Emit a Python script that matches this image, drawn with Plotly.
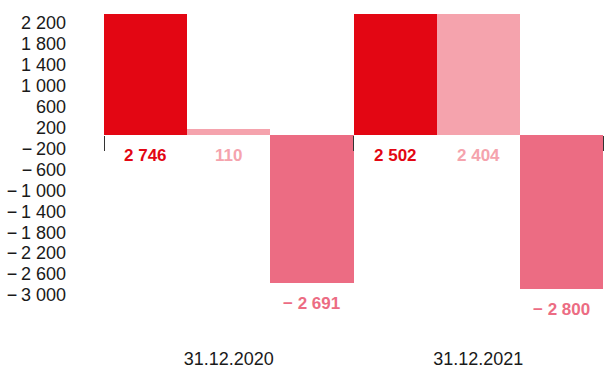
import plotly.graph_objects as go

# Reporting dates and the three series values per date
dates = ["31.12.2020", "31.12.2021"]
series_a = [2746, 2502]
series_b = [110, 2404]
series_c = [-2691, -2800]

# Scale tick labels shown on the left
tick_values = [2200, 1800, 1400, 1000, 600, 200, -200, -600, -1000,
               -1400, -1800, -2200, -2600, -3000]

colors = ["#e30613", "#f5a3ad", "#ec6c83"]
font_family = "Liberation Sans, Arial, Helvetica, sans-serif"


def fmt(v, gap="\u2009"):
    s = f"{abs(v):,}".replace(",", " ")
    return ("\u2212" + gap + s) if v < 0 else s


fig = go.Figure()
all_series = [series_a, series_b, series_c]
for k, (vals, col) in enumerate(zip(all_series, colors)):
    fig.add_trace(go.Bar(
        x=dates, y=vals, name=f"series {k + 1}",
        marker=dict(color=col, line=dict(width=0)),
        hoverinfo="skip",
    ))

# Empty trace that carries the left-hand scale axis
fig.add_trace(go.Scatter(
    x=dates, y=[None, None], yaxis="y2", mode="markers",
    showlegend=False, hoverinfo="skip",
))

# Value labels under each bar (below zero line for positive bars)
annotations = []
for k, (vals, col) in enumerate(zip(all_series, colors)):
    for i, v in enumerate(vals):
        annotations.append(dict(
            x=i + (k - 1) / 3, y=min(v, 0), xref="x", yref="y",
            text=f"<b>{fmt(v, ' ')}</b>", showarrow=False,
            yanchor="middle", yshift=-20,
            font=dict(family=font_family, size=17, color=col),
        ))

fig.update_layout(
    width=605, height=368,
    margin=dict(l=104, r=2, t=14, b=57),
    paper_bgcolor="white", plot_bgcolor="white",
    barmode="group", bargap=0, bargroupgap=0,
    showlegend=False,
    font=dict(family=font_family, size=17, color="#1a1a1a"),
    annotations=annotations,
    xaxis=dict(
        type="category", anchor="free", position=0.5926,
        tickson="boundaries", ticks="outside", ticklen=15,
        tickwidth=1, tickcolor="#333333",
        showline=False, showgrid=False, zeroline=False,
        tickfont=dict(size=18, color="#1a1a1a"),
        ticklabelstandoff=211, automargin=False,
    ),
    yaxis=dict(
        range=[-3200, 2200], showticklabels=False, showgrid=False,
        zeroline=False, showline=False, ticks="", automargin=False,
    ),
    yaxis2=dict(
        overlaying="y", anchor="x", side="left",
        range=[-3306, 2372], tickmode="array",
        tickvals=tick_values, ticktext=[fmt(v) for v in tick_values],
        showgrid=False, zeroline=False, showline=False, ticks="",
        ticklabelstandoff=37, automargin=False,
        tickfont=dict(size=18, color="#1a1a1a"),
    ),
)

fig.write_html("out.html")
